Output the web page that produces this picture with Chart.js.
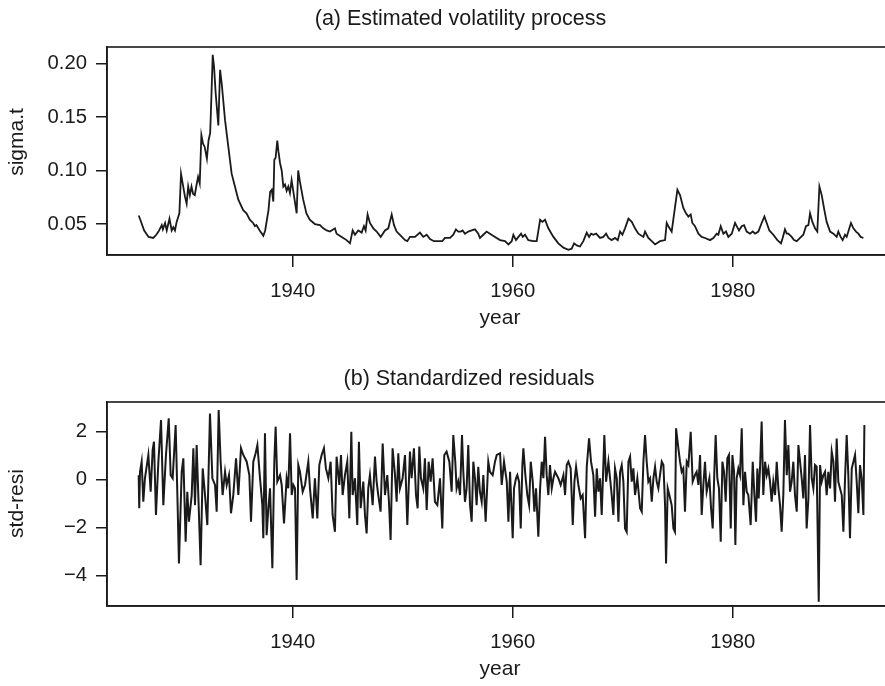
<!DOCTYPE html>
<html><head><meta charset="utf-8">
<script src="https://cdn.jsdelivr.net/npm/chart.js@4.4.1/dist/chart.umd.min.js"></script>
<style>
html,body{margin:0;padding:0;background:#fff;overflow:hidden;width:885px;height:686px;}
canvas{position:absolute;left:0;}
#c1{top:0}
#c2{top:340px}
</style></head><body>
<canvas id="c1" width="900" height="340"></canvas>
<canvas id="c2" width="900" height="346"></canvas>
<script>
// ---------- data ----------
const yearTicks = [1940, 1960, 1980];
const sigmaTicks = [0.05, 0.10, 0.15, 0.20];
const residTicks = [-4, -2, 0, 2];

const sigmaYear = [
1926.00,1926.15,1926.50,1926.90,1927.33,1927.60,1927.80,1928.10,1928.20,1928.40,1928.55,1928.80,
1929.00,1929.15,1929.30,1929.45,1929.70,1929.85,1930.05,1930.20,1930.36,1930.50,1930.65,1930.80,
1930.95,1931.10,1931.25,1931.40,1931.55,1931.70,1931.85,1932.00,1932.20,1932.35,1932.50,1932.62,
1932.73,1932.85,1933.00,1933.24,1933.40,1933.55,1933.85,1934.15,1934.45,1934.75,1935.05,1935.50,
1935.80,1936.10,1936.40,1936.57,1936.70,1937.00,1937.33,1937.50,1937.80,1937.95,1938.10,1938.24,
1938.33,1938.45,1938.60,1938.70,1938.85,1939.00,1939.15,1939.30,1939.45,1939.60,1939.75,1939.90,
1940.05,1940.36,1940.50,1940.65,1940.95,1941.25,1941.55,1942.02,1942.48,1942.78,1943.09,1943.39,
1943.84,1943.99,1944.45,1944.90,1945.21,1945.45,1945.66,1945.96,1946.27,1946.48,1946.63,1946.81,
1947.02,1947.33,1947.63,1948.00,1948.39,1948.69,1949.00,1949.21,1949.45,1949.75,1950.21,1950.42,
1950.66,1951.12,1951.57,1951.87,1952.18,1952.48,1952.84,1953.24,1953.60,1953.84,1954.30,1954.60,
1954.84,1955.05,1955.27,1955.45,1955.66,1955.96,1956.27,1956.57,1956.87,1957.02,1957.33,1957.63,
1957.93,1958.39,1958.85,1959.30,1959.61,1959.91,1960.06,1960.30,1960.52,1960.76,1960.91,1961.12,
1961.42,1961.88,1962.18,1962.49,1962.70,1962.94,1963.24,1963.70,1964.15,1964.61,1965.06,1965.36,
1965.58,1965.82,1966.12,1966.42,1966.73,1966.94,1967.12,1967.33,1967.58,1967.94,1968.24,1968.49,
1968.70,1969.00,1969.30,1969.55,1969.76,1969.97,1970.21,1970.52,1970.82,1971.12,1971.42,1971.88,
1972.03,1972.33,1972.64,1972.94,1973.39,1973.85,1974.00,1974.15,1974.45,1974.97,1975.21,1975.51,
1975.75,1975.97,1976.18,1976.33,1976.57,1976.88,1977.18,1977.48,1977.94,1978.24,1978.54,1978.69,
1978.91,1979.15,1979.39,1979.60,1979.91,1980.21,1980.36,1980.57,1980.82,1981.03,1981.27,1981.57,
1981.82,1982.03,1982.33,1982.63,1982.88,1983.09,1983.33,1983.69,1984.06,1984.39,1984.54,1984.75,
1984.91,1985.06,1985.36,1985.57,1985.82,1986.12,1986.42,1986.66,1986.88,1987.03,1987.24,1987.48,
1987.69,1987.88,1988.09,1988.33,1988.54,1988.85,1989.15,1989.45,1989.60,1989.81,1989.99,1990.21,
1990.36,1990.60,1990.75,1990.97,1991.21,1991.42,1991.63,1991.88
];
const sigmaValue = [
0.058,0.054,0.044,0.038,0.037,0.040,0.043,0.049,0.045,0.051,0.044,0.055,
0.044,0.047,0.044,0.052,0.060,0.097,0.085,0.076,0.069,0.085,0.077,0.085,
0.078,0.077,0.086,0.094,0.088,0.133,0.125,0.122,0.111,0.128,0.135,0.172,
0.208,0.197,0.172,0.142,0.194,0.181,0.147,0.122,0.097,0.085,0.073,0.063,
0.060,0.054,0.051,0.048,0.049,0.044,0.039,0.044,0.063,0.080,0.082,0.071,
0.110,0.112,0.128,0.118,0.107,0.100,0.085,0.087,0.081,0.085,0.079,0.091,
0.081,0.060,0.100,0.090,0.073,0.060,0.054,0.050,0.049,0.046,0.044,0.043,
0.046,0.041,0.038,0.035,0.032,0.044,0.040,0.044,0.042,0.048,0.044,0.059,
0.051,0.046,0.043,0.038,0.044,0.046,0.059,0.049,0.043,0.040,0.035,0.034,
0.038,0.038,0.042,0.038,0.040,0.036,0.034,0.034,0.034,0.037,0.037,0.040,
0.045,0.043,0.043,0.044,0.041,0.043,0.044,0.045,0.041,0.037,0.040,0.043,
0.041,0.038,0.035,0.034,0.031,0.034,0.040,0.035,0.038,0.041,0.038,0.040,
0.035,0.034,0.034,0.054,0.052,0.054,0.046,0.038,0.032,0.028,0.026,0.027,
0.032,0.030,0.029,0.034,0.042,0.038,0.041,0.040,0.041,0.037,0.038,0.041,
0.037,0.035,0.037,0.035,0.043,0.040,0.046,0.055,0.052,0.046,0.041,0.038,
0.043,0.037,0.034,0.031,0.034,0.035,0.051,0.048,0.043,0.082,0.077,0.065,
0.060,0.057,0.059,0.051,0.048,0.041,0.038,0.037,0.035,0.037,0.041,0.040,
0.048,0.041,0.043,0.038,0.041,0.051,0.048,0.044,0.048,0.049,0.043,0.041,
0.043,0.041,0.043,0.051,0.057,0.051,0.044,0.040,0.035,0.032,0.037,0.045,
0.041,0.041,0.038,0.035,0.034,0.037,0.040,0.048,0.049,0.060,0.052,0.046,
0.043,0.085,0.077,0.063,0.052,0.043,0.041,0.038,0.043,0.038,0.035,0.040,
0.038,0.046,0.051,0.046,0.043,0.041,0.038,0.037
];

const residYear = [
1926.00,1926.05,1926.12,1926.27,1926.42,1926.57,1926.88,1927.09,1927.27,1927.39,1927.57,1927.79,
1928.03,1928.24,1928.48,1928.73,1928.91,1929.09,1929.36,1929.54,1929.66,1929.91,1930.06,1930.27,
1930.42,1930.57,1930.82,1930.97,1931.12,1931.27,1931.63,1931.82,1932.03,1932.24,1932.48,1932.70,
1932.94,1933.09,1933.27,1933.45,1933.63,1933.85,1934.00,1934.21,1934.39,1934.60,1934.85,1935.06,
1935.30,1935.51,1935.82,1936.06,1936.21,1936.42,1936.63,1936.79,1937.03,1937.24,1937.33,1937.48,
1937.63,1937.79,1937.94,1938.15,1938.33,1938.45,1938.60,1938.85,1939.00,1939.21,1939.45,1939.60,
1939.76,1939.91,1940.06,1940.21,1940.36,1940.51,1940.66,1940.91,1941.12,1941.42,1941.57,1941.82,
1942.02,1942.24,1942.42,1942.63,1942.84,1943.02,1943.24,1943.45,1943.63,1943.84,1943.99,1944.24,
1944.39,1944.54,1944.75,1944.96,1945.15,1945.33,1945.45,1945.66,1945.87,1946.02,1946.18,1946.42,
1946.57,1946.72,1946.87,1947.02,1947.27,1947.48,1947.63,1947.78,1947.99,1948.18,1948.39,1948.60,
1948.75,1948.90,1949.08,1949.30,1949.45,1949.60,1949.75,1949.99,1950.21,1950.42,1950.66,1950.81,
1951.02,1951.21,1951.36,1951.51,1951.66,1951.87,1952.02,1952.18,1952.36,1952.54,1952.72,1952.93,
1953.15,1953.39,1953.60,1953.78,1953.99,1954.24,1954.45,1954.60,1954.78,1954.90,1955.05,1955.21,
1955.39,1955.51,1955.66,1955.81,1955.96,1956.12,1956.27,1956.42,1956.57,1956.72,1956.87,1957.02,
1957.18,1957.33,1957.54,1957.78,1957.93,
1958.18,1958.39,1958.55,1958.85,1959.00,1959.21,1959.46,1959.61,1959.76,1960.00,1960.12,1960.30,
1960.42,1960.58,1960.73,1960.88,1960.97,1961.15,1961.33,1961.49,1961.64,1961.82,1961.97,1962.12,
1962.33,1962.49,1962.64,1962.79,1962.94,1963.09,1963.24,1963.39,1963.55,1963.70,1963.85,1964.15,
1964.36,1964.61,1964.76,1964.91,1965.06,1965.27,1965.46,1965.61,1965.76,1965.97,1966.18,1966.36,
1966.58,1966.73,1966.94,1967.12,1967.33,1967.49,1967.64,1967.79,1967.94,1968.09,1968.33,1968.49,
1968.70,1968.85,1969.00,1969.15,1969.30,1969.46,1969.61,1969.76,1969.91,1970.06,1970.21,1970.36,
1970.52,1970.67,1970.82,1970.97,1971.12,1971.33,1971.58,1971.73,1971.88,1972.03,1972.18,1972.33,
1972.49,1972.64,1972.79,1972.94,1973.09,1973.24,1973.39,1973.55,1973.70,1973.85,1973.94,1974.09,
1974.24,1974.45,1974.61,
1974.75,1974.85,1975.06,1975.21,1975.36,1975.51,1975.66,1975.82,1975.97,1976.18,1976.36,1976.57,
1976.72,1976.88,1977.03,1977.18,1977.33,1977.48,1977.63,1977.88,1978.03,1978.18,1978.33,1978.45,
1978.60,1978.75,1978.91,1979.06,1979.21,1979.36,1979.51,1979.66,1979.82,1979.97,1980.12,1980.24,
1980.36,1980.51,1980.66,1980.82,1980.97,1981.12,1981.27,1981.42,1981.63,1981.82,1981.97,1982.12,
1982.24,1982.36,1982.48,1982.63,1982.78,1982.94,1983.09,1983.24,1983.39,1983.54,1983.69,1983.85,
1984.00,1984.15,1984.30,1984.45,1984.60,1984.75,1984.91,1985.06,1985.21,1985.36,1985.51,1985.66,
1985.82,1985.97,1986.12,1986.27,1986.42,1986.57,1986.72,1986.88,1987.03,1987.18,1987.33,1987.48,
1987.63,1987.82,1987.94,1988.09,1988.24,1988.39,1988.54,1988.69,1988.85,1989.00,1989.15,1989.30,
1989.45,1989.60,1989.75,1989.91,1990.06,1990.21,1990.36,1990.51,1990.66,1990.82,1990.97,1991.12,
1991.27,1991.42,1991.57,1991.72,1991.88,1991.97
];
const residValue = [
0.19,-1.19,0.33,0.75,-0.92,0.06,1.03,-0.50,1.24,1.58,-1.47,0.75,
2.49,-1.06,1.03,2.56,0.19,0.06,2.28,-1.06,-3.49,0.33,0.89,-2.58,
-0.50,-1.75,-0.64,1.31,-1.06,1.44,-3.56,0.47,-0.64,-1.89,2.76,0.06,
-0.22,-1.33,2.90,0.75,-0.64,0.33,-0.22,0.19,-1.40,-0.64,0.89,-0.64,
1.31,1.03,0.75,0.19,-1.75,0.75,1.10,1.44,0.06,-1.06,-2.44,1.93,
-2.31,-1.19,-0.36,-3.69,0.75,2.21,-0.08,0.19,-0.22,-1.82,0.06,-0.36,
1.93,-0.64,-0.22,-0.36,-4.18,0.61,0.33,-0.50,-0.22,0.75,-0.36,-1.61,
0.06,-1.61,0.61,1.03,1.31,0.47,0.06,0.75,-1.47,-2.17,0.96,-0.22,
1.03,-0.64,0.19,0.75,-1.61,2.00,-0.64,0.06,-1.89,1.58,-1.19,-0.08,
-1.47,-2.24,-0.36,0.19,-1.06,0.96,-0.08,-0.64,-1.33,1.51,-0.64,0.19,
-0.92,-2.51,1.31,0.19,-0.92,1.10,-0.36,0.06,1.03,-1.89,1.17,0.06,
1.31,-0.64,-1.19,1.38,0.06,-0.36,0.89,-1.26,0.75,-0.08,0.89,-0.92,
-1.06,0.06,-2.03,1.03,1.17,0.75,-0.50,1.86,0.75,-0.36,-0.08,-0.64,
1.86,0.33,-0.92,-0.36,1.44,-1.06,-1.75,0.75,0.06,-1.06,0.54,-0.50,
-0.92,0.19,-1.75,0.75,0.33,
0.19,0.75,1.03,1.10,-0.22,0.75,-0.08,-1.75,0.33,-2.44,-0.36,0.06,
0.19,-0.08,-2.03,0.61,1.31,0.19,-0.64,-1.06,0.75,-0.08,-1.33,-0.36,
-2.38,-0.36,0.75,0.06,1.79,0.19,-0.64,0.61,-0.36,0.06,0.33,0.06,
-0.22,0.19,-0.64,0.61,0.75,0.47,-1.89,-0.08,0.54,-0.22,-0.78,-0.64,
-2.44,0.54,1.72,0.75,0.19,-1.54,0.47,-0.50,0.06,-1.47,1.86,-0.08,
0.75,0.06,-0.64,-1.47,0.47,0.06,-1.75,0.33,0.61,-0.08,-2.03,-2.17,
0.75,0.96,-0.08,0.47,-0.64,0.06,-1.19,-1.33,0.75,1.86,0.75,-0.08,
0.06,-0.92,0.06,0.54,-0.08,-0.36,0.19,0.75,0.61,-1.06,-3.49,-0.36,
-0.64,-1.06,-2.03,
-2.17,2.14,1.31,0.75,0.33,0.47,-1.33,0.75,0.61,2.00,-0.08,0.19,
0.33,-0.22,1.03,-1.47,-0.22,0.75,-0.50,0.06,-1.19,-2.03,0.33,1.86,
0.06,-0.36,-2.58,0.75,0.33,-0.92,0.89,1.03,-2.03,1.03,0.33,-2.72,
0.06,0.47,0.19,2.14,-1.06,0.33,-0.50,-0.64,-1.89,0.75,-0.64,-1.75,
0.47,-0.78,0.47,2.42,-0.64,0.75,0.19,0.47,-0.08,-0.92,-0.08,-0.64,
0.75,-0.36,-1.06,-2.17,-0.64,2.49,0.19,1.44,-0.50,-0.08,0.75,-0.64,
-1.33,1.44,0.75,0.06,-0.78,1.03,-2.03,-0.78,2.28,0.06,-0.36,0.61,
0.54,-5.08,0.61,-0.08,0.19,0.33,-0.64,0.33,-0.36,1.17,0.75,-0.92,
1.72,-0.08,-0.36,-0.64,-2.17,0.06,1.86,0.19,-2.44,0.47,0.75,1.03,
-0.08,-1.40,0.61,0.06,-1.47,2.28
];

// ---------- drawing ----------
const FONT = "'Liberation Sans', Arial, Helvetica, sans-serif";
const INK = '#1a1a1a';

const framePlugin = {
  id: 'frame',
  afterDraw(chart, args, o) {
    const {ctx, chartArea: a} = chart;
    ctx.save();
    ctx.strokeStyle = INK;
    ctx.lineWidth = 1.6;
    ctx.strokeRect(a.left, a.top, a.right - a.left, a.bottom - a.top);
    ctx.fillStyle = INK;
    ctx.textAlign = 'center';
    ctx.textBaseline = 'middle';
    ctx.font = '21.5px ' + FONT;
    ctx.fillText(o.title, o.titleX, o.titleY);
    ctx.font = '21px ' + FONT;
    ctx.translate(o.yTitleX, o.yTitleY);
    ctx.rotate(-Math.PI / 2);
    ctx.fillText(o.yTitle, 0, 0);
    ctx.restore();
  }
};

function panel(id, xs, ys, cfg) {
  const pts = xs.map((x, i) => ({x: x, y: ys[i]}));
  return new Chart(document.getElementById(id), {
    type: 'line',
    data: {datasets: [{data: pts, borderColor: INK, borderWidth: cfg.lw, pointRadius: 0, tension: 0, fill: false}]},
    options: {
      responsive: false, animation: false, devicePixelRatio: 1,
      layout: {padding: {top: cfg.areaTop, right: 7, bottom: 0, left: 0}},
      plugins: {
        legend: {display: false}, tooltip: {enabled: false},
        frame: {title: cfg.title, titleX: cfg.titleX, titleY: cfg.titleY,
                yTitle: cfg.yTitle, yTitleX: 17, yTitleY: cfg.yTitleY}
      },
      scales: {
        x: {
          type: 'linear', position: 'bottom', min: 1923.12, max: 1994.57,
          afterBuildTicks: s => { s.ticks = yearTicks.map(v => ({value: v})); },
          afterFit: s => { s.height = cfg.xH; },
          ticks: {autoSkip: false, maxRotation: 0, padding: 12, color: INK,
                  font: {size: 20.3, family: FONT}, callback: v => String(v)},
          grid: {drawOnChartArea: false, drawTicks: true, tickLength: 12, color: INK, lineWidth: 1.5},
          border: {display: true, color: INK, width: 1.6},
          title: {display: true, text: 'year', color: INK, font: {size: 21, family: FONT},
                  padding: {top: 0, bottom: cfg.yearPad}}
        },
        y: {
          type: 'linear', min: cfg.ymin, max: cfg.ymax,
          afterBuildTicks: s => { s.ticks = cfg.yTicks.map(v => ({value: v})); },
          afterFit: s => { s.width = 107; },
          ticks: {autoSkip: false, padding: 9, color: INK,
                  font: {size: 20.3, family: FONT}, callback: cfg.fmt},
          grid: {drawOnChartArea: false, drawTicks: true, tickLength: 11, color: INK, lineWidth: 1.5},
          border: {display: true, color: INK, width: 1.6}
        }
      }
    },
    plugins: [framePlugin]
  });
}

panel('c1', sigmaYear, sigmaValue, {
  lw: 1.8, areaTop: 47, xH: 85, yearPad: 9.4, ymin: 0.0211, ymax: 0.2153,
  yTicks: sigmaTicks, fmt: v => v.toFixed(2),
  title: '(a) Estimated volatility process', titleX: 460.5, titleY: 19.5,
  yTitle: 'sigma.t', yTitleY: 142
});

panel('c2', residYear, residValue, {
  lw: 2, areaTop: 62, xH: 80, yearPad: 4.4, ymin: -5.2625, ymax: 3.2375,
  yTicks: residTicks, fmt: v => (v < 0 ? '\u2212' + Math.abs(v) : String(v)),
  title: '(b) Standardized residuals', titleX: 469, titleY: 39,
  yTitle: 'std-resi', yTitleY: 163.5
});
</script>
</body></html>
